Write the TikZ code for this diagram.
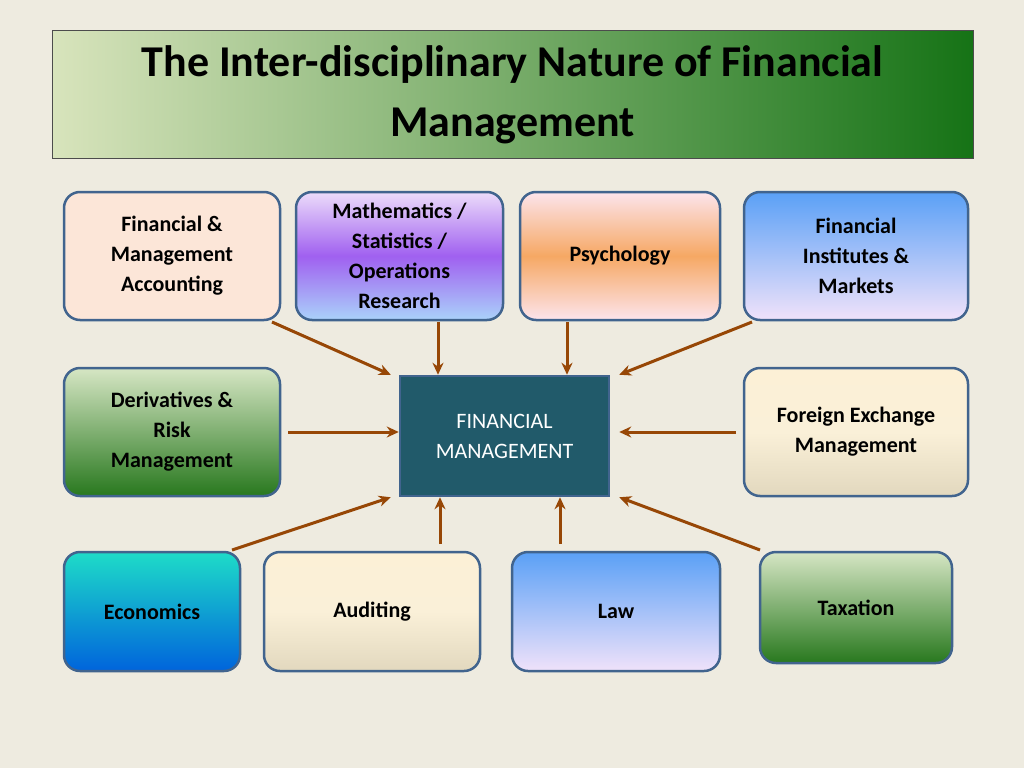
\documentclass[tikz,border=0pt]{standalone}
\usepackage{fontspec}
\setmainfont{Carlito}
\usepackage{tikz}
\usetikzlibrary{arrows.meta, positioning, calc}

\definecolor{bg}{HTML}{EEEBE0}
\definecolor{edge}{HTML}{41648E}
\definecolor{arrowc}{HTML}{974706}
\definecolor{core}{HTML}{215A6A}

\begin{document}
\begin{tikzpicture}[x=1pt, y=-1pt,
        box/.style={draw=edge, line width=2.5pt, rounded corners=16pt, align=center,
            font=\fontsize{22}{30}\selectfont\bfseries},
        link/.style={draw=arrowc, line width=3pt, -{Stealth[length=12pt, width=11pt]}},
    ]

    % Background
    \fill[bg] (0,0) rectangle (1024,768);
    \useasboundingbox (0,0) rectangle (1024,768);

    % Title
    \node[draw=black!70, line width=1pt, left color={rgb,255:red,216;green,228;blue,188},
        right color={rgb,255:red,22;green,115;blue,22}, minimum width=921pt, minimum height=127pt,
        align=center, font=\fontsize{44}{60}\selectfont\bfseries] (title) at (512.5,94.5)
        {The Inter-disciplinary Nature of Financial\\Management};

    % Top row
    \node[box, fill={rgb,255:red,252;green,230;blue,216}, minimum width=216pt, minimum height=128pt] (acct) at (172,256)
        {Financial \&\\Management\\Accounting};
    \node[box, top color={rgb,255:red,236;green,220;blue,250}, bottom color={rgb,255:red,170;green,210;blue,250},
        middle color={rgb,255:red,160;green,96;blue,240}, minimum width=207pt, minimum height=128pt] (maths) at (399.5,256)
        {Mathematics /\\Statistics /\\Operations\\Research};
    \node[box, top color={rgb,255:red,252;green,228;blue,236}, bottom color={rgb,255:red,252;green,228;blue,236},
        middle color={rgb,255:red,246;green,168;blue,100}, minimum width=200pt, minimum height=128pt] (psych) at (620,256)
        {Psychology};
    \node[box, top color={rgb,255:red,90;green,160;blue,246}, bottom color={rgb,255:red,240;green,226;blue,250},
        minimum width=224pt, minimum height=128pt] (inst) at (856,256)
        {Financial\\Institutes \&\\Markets};

    % Middle row
    \node[box, top color={rgb,255:red,214;green,230;blue,196}, bottom color={rgb,255:red,40;green,120;blue,30},
        minimum width=216pt, minimum height=128pt] (deriv) at (172,432)
        {Derivatives \&\\Risk\\Management};
    \node[draw=edge, line width=2.5pt, fill=core, text=white, align=center, minimum width=209pt, minimum height=120pt,
        font=\fontsize{22}{30}\selectfont] (fm) at (504.5,436)
        {FINANCIAL\\MANAGEMENT};
    \node[box, top color={rgb,255:red,252;green,240;blue,214}, bottom color={rgb,255:red,226;green,216;blue,190},
        middle color={rgb,255:red,250;green,240;blue,216}, minimum width=224pt, minimum height=128pt] (forex) at (856,432)
        {Foreign Exchange\\Management};

    % Bottom row
    \node[box, top color={rgb,255:red,30;green,220;blue,200}, bottom color={rgb,255:red,0;green,100;blue,220},
        minimum width=176pt, minimum height=119pt] (econ) at (152,611.5)
        {Economics};
    \node[box, top color={rgb,255:red,252;green,240;blue,214}, bottom color={rgb,255:red,226;green,216;blue,190},
        middle color={rgb,255:red,250;green,240;blue,216}, minimum width=216pt, minimum height=119pt] (audit) at (372,611.5)
        {Auditing};
    \node[box, top color={rgb,255:red,90;green,160;blue,246}, bottom color={rgb,255:red,240;green,226;blue,250},
        minimum width=208pt, minimum height=119pt] (law) at (616,611.5)
        {Law};
    \node[box, top color={rgb,255:red,214;green,230;blue,196}, bottom color={rgb,255:red,40;green,120;blue,30},
        minimum width=192pt, minimum height=111pt] (tax) at (856,607.5)
        {Taxation};

    % Arrow tails
    \coordinate (t1) at (272,322);
    \coordinate (t2) at (438,322);
    \coordinate (t3) at (567,322);
    \coordinate (t4) at (752,322);
    \coordinate (t5) at (288,432);
    \coordinate (t6) at (736,432);
    \coordinate (t7) at (232,550);
    \coordinate (t8) at (440,544);
    \coordinate (t9) at (560,544);
    \coordinate (t10) at (760,550);

    % Arrows into the core
    \draw[link] (t1) -- ($(fm.north west)+(-8,0)$);
    \draw[link] (t2) -- (t2 |- fm.north);
    \draw[link] (t3) -- (t3 |- fm.north);
    \draw[link] (t4) -- ($(fm.north east)+(9,0)$);
    \draw[link] (t5) -- (t5 -| fm.west);
    \draw[link] (t6) -- ($(t6 -| fm.east)+(9,0)$);
    \draw[link] (t7) -- ($(fm.south west)+(-8,0)$);
    \draw[link] (t8) -- (t8 |- fm.south);
    \draw[link] (t9) -- (t9 |- fm.south);
    \draw[link] (t10) -- ($(fm.south east)+(9,0)$);
\end{tikzpicture}
\end{document}
